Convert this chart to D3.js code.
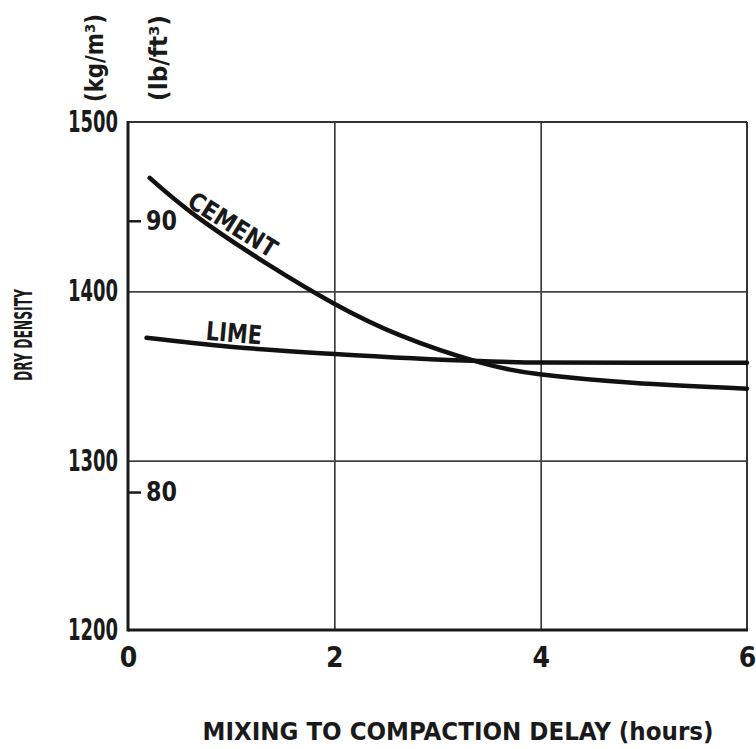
<!DOCTYPE html>
<html>
<head>
<meta charset="utf-8">
<script src="https://cdn.jsdelivr.net/npm/d3@7"></script>
<style>
  body { margin: 0; background: #fff; }
  text { font-family: "DejaVu Sans Condensed", "DejaVu Sans", sans-serif; font-weight: bold; fill: #1a1a1a; }
</style>
</head>
<body>
<div id="chart"></div>
<script>
// values
const cementHours = [0.21, 0.67, 1.38, 1.99, 2.64, 3.41, 3.99, 4.89, 6.0];
const cementDensity = [1467, 1444, 1415, 1393, 1374, 1358, 1351, 1346, 1342.5];
const limeHours = [0.18, 0.99, 2.0, 3.41, 3.99, 6.0];
const limeDensity = [1372.6, 1367.3, 1363, 1358.8, 1357.9, 1357.8];

const xTicks = [0, 2, 4, 6];
const kgTicks = [1200, 1300, 1400, 1500];
const lbTicks = [80, 90];
const kgPerLb = 16.0185;

const margin = { top: 122, right: 9, bottom: 119, left: 128 };
const width = 756 - margin.left - margin.right;
const height = 749 - margin.top - margin.bottom;

const svg = d3.select("#chart")
    .append("svg")
    .attr("width", 756)
    .attr("height", 749);

const g = svg.append("g")
    .attr("transform", `translate(${margin.left}, ${margin.top})`);

const xScale = d3.scaleLinear().domain([0, 6]).range([0, width]);
const yScale = d3.scaleLinear().domain([1200, 1500]).range([height, 0]);
const lbScale = d3.scaleLinear()
    .domain([1200 / kgPerLb, 1500 / kgPerLb])
    .range([height, 0]);

// grid
g.append("g")
    .call(d3.axisBottom(xScale).tickValues([2, 4]).tickSize(height).tickFormat(""))
    .call(a => a.select(".domain").remove())
    .selectAll("line").attr("stroke", "#333").attr("stroke-width", 1.6);
g.append("g")
    .call(d3.axisLeft(yScale).tickValues([1300, 1400]).tickSize(-width).tickFormat(""))
    .call(a => a.select(".domain").remove())
    .selectAll("line").attr("stroke", "#444").attr("stroke-width", 1.6);

// frame
g.append("line").attr("x1", 0).attr("x2", width).attr("y1", 0).attr("y2", 0)
    .attr("stroke", "#333").attr("stroke-width", 2);
g.append("line").attr("x1", width).attr("x2", width).attr("y1", 0).attr("y2", height)
    .attr("stroke", "#333").attr("stroke-width", 2);
g.append("line").attr("x1", 0).attr("x2", 0).attr("y1", -1).attr("y2", height + 1.5)
    .attr("stroke", "#1a1a1a").attr("stroke-width", 3);
g.append("line").attr("x1", 0).attr("x2", width + 1).attr("y1", height).attr("y2", height)
    .attr("stroke", "#1a1a1a").attr("stroke-width", 3);

// kg/m3 axis labels
const yAxis = g.append("g")
    .call(d3.axisLeft(yScale).tickValues(kgTicks).tickSize(0).tickPadding(10).tickFormat(d3.format("d")));
yAxis.select(".domain").remove();
yAxis.selectAll("text")
    .style("font-size", "30px")
    .attr("textLength", 50)
    .attr("lengthAdjust", "spacingAndGlyphs");

// lb/ft3 ticks inside the frame
const lbAxis = g.append("g")
    .call(d3.axisRight(lbScale).tickValues(lbTicks).tickSize(13).tickPadding(5).tickFormat(d3.format("d")));
lbAxis.select(".domain").remove();
lbAxis.selectAll("line").attr("stroke", "#1a1a1a").attr("stroke-width", 2.5);
lbAxis.selectAll("text")
    .style("font-size", "27px")
    .attr("textLength", 31)
    .attr("lengthAdjust", "spacingAndGlyphs");

// x axis labels
const xAxis = g.append("g")
    .attr("transform", `translate(0, ${height})`)
    .call(d3.axisBottom(xScale).tickValues(xTicks).tickSize(0).tickPadding(17).tickFormat(d3.format("d")));
xAxis.select(".domain").remove();
xAxis.selectAll("text").style("font-size", "28px");

// curves
const cementLine = d3.line()
    .x(d => xScale(d[0]))
    .y(d => yScale(d[1]))
    .curve(d3.curveNatural);

const limeLine = d3.line()
    .x(d => xScale(d[0]))
    .y(d => yScale(d[1]))
    .curve(d3.curveMonotoneX);

g.append("path")
    .datum(cementHours.map((h, i) => [h, cementDensity[i]]))
    .attr("d", cementLine)
    .attr("fill", "none")
    .attr("stroke", "#111")
    .attr("stroke-width", 4.5)
    .attr("stroke-linecap", "round");

g.append("path")
    .datum(limeHours.map((h, i) => [h, limeDensity[i]]))
    .attr("d", limeLine)
    .attr("fill", "none")
    .attr("stroke", "#111")
    .attr("stroke-width", 4.5)
    .attr("stroke-linecap", "round");

// curve labels
g.append("text")
    .attr("transform", `translate(${xScale(0.97)}, ${yScale(1435)}) rotate(32)`)
    .attr("text-anchor", "middle")
    .style("font-size", "25px")
    .attr("textLength", 100)
    .attr("lengthAdjust", "spacingAndGlyphs")
    .text("CEMENT");

g.append("text")
    .attr("transform", `translate(${xScale(1.02)}, ${yScale(1370)}) rotate(5)`)
    .attr("text-anchor", "middle")
    .style("font-size", "26px")
    .attr("textLength", 56)
    .attr("lengthAdjust", "spacingAndGlyphs")
    .text("LIME");

// axis titles
svg.append("text")
    .attr("x", 458)
    .attr("y", 740)
    .attr("text-anchor", "middle")
    .style("font-size", "24px")
    .attr("textLength", 511)
    .attr("lengthAdjust", "spacingAndGlyphs")
    .text("MIXING TO COMPACTION DELAY (hours)");

svg.append("text")
    .attr("transform", "translate(32, 335) rotate(-90)")
    .attr("text-anchor", "middle")
    .style("font-size", "24px")
    .attr("textLength", 92)
    .attr("lengthAdjust", "spacingAndGlyphs")
    .text("DRY DENSITY");

svg.append("text")
    .attr("transform", "translate(103, 58) rotate(-90)")
    .attr("text-anchor", "middle")
    .style("font-size", "25px")
    .attr("textLength", 88)
    .attr("lengthAdjust", "spacingAndGlyphs")
    .text("(kg/m³)");

svg.append("text")
    .attr("transform", "translate(167, 58) rotate(-90)")
    .attr("text-anchor", "middle")
    .style("font-size", "25px")
    .attr("textLength", 86)
    .attr("lengthAdjust", "spacingAndGlyphs")
    .text("(lb/ft³)");
</script>
</body>
</html>
